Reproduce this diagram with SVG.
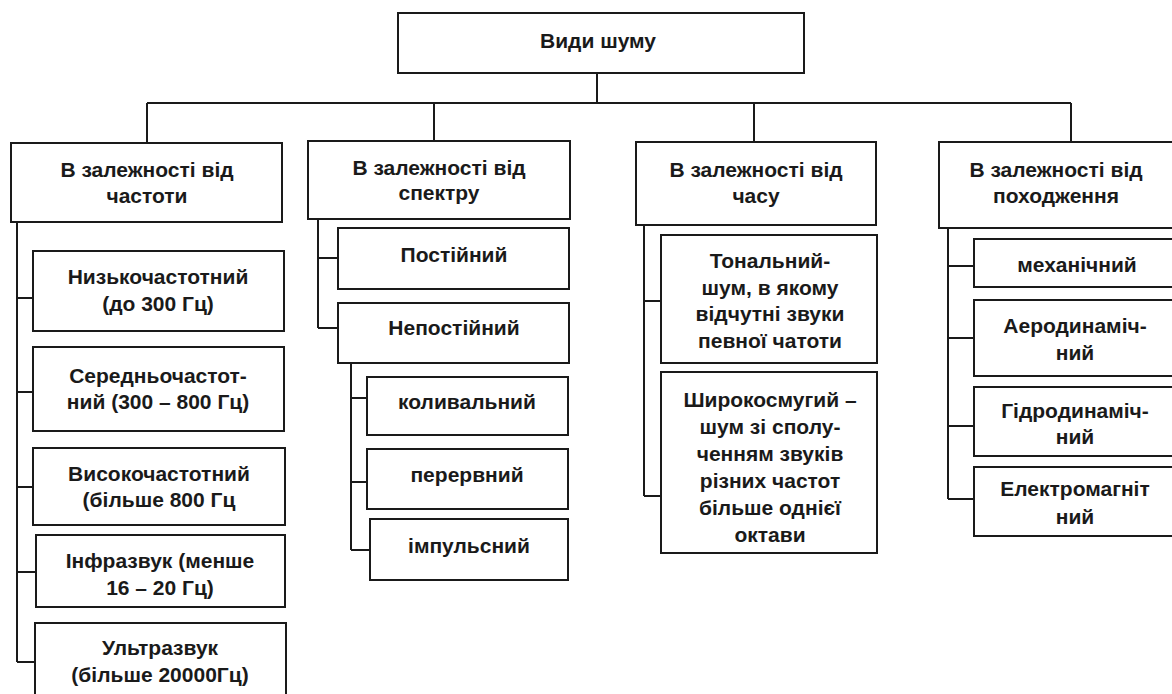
<svg xmlns="http://www.w3.org/2000/svg" width="1172" height="694" viewBox="0 0 1172 694">
<style>
.b{fill:#fff;stroke:#1a1a1a;stroke-width:2}
.c{fill:none;stroke:#1a1a1a;stroke-width:2}
text{font-family:"Liberation Sans",Arial,sans-serif;font-weight:bold;font-size:21px;fill:#1a1a1a;text-anchor:middle}
</style>
<rect width="1172" height="694" fill="#fff"/>
<g id="connectors">
<path class="c" d="M597 73V103M147 103H1071M147 103V143M434 103V141M754 103V142M1071 103V142"/>
<path class="c" d="M17 222V662M17 298H33M17 392H33M17 487H33M17 572H36M17 662H35"/>
<path class="c" d="M318 219V328M318 258H338M318 328H338M351 363V550M351 398H367M351 482H367M351 550H370"/>
<path class="c" d="M644 225V496M644 301H661M644 496H661"/>
<path class="c" d="M948 228V499M948 266H974M948 338H974M948 426H974M948 499H974"/>
</g>
<g id="root"><rect class="b" x="398" y="13" width="406" height="60"/><text x="598" y="48">Види шуму</text></g>
<g id="freq"><rect class="b" x="11" y="143" width="271" height="79"/><text x="147" y="177">В залежності від</text><text x="147" y="203">частоти</text></g>
<g id="spectrum"><rect class="b" x="308" y="141" width="262" height="78"/><text x="439" y="175">В залежності від</text><text x="439" y="200">спектру</text></g>
<g id="time"><rect class="b" x="636" y="142" width="240" height="83"/><text x="756" y="177">В залежності від</text><text x="756" y="203">часу</text></g>
<g id="origin"><rect class="b" x="939" y="142" width="236" height="86"/><text x="1056" y="177">В залежності від</text><text x="1056" y="203">походження</text></g>
<g id="low"><rect class="b" x="33" y="251" width="251" height="80"/><text x="158" y="284">Низькочастотний</text><text x="158" y="311">(до 300 Гц)</text></g>
<g id="mid"><rect class="b" x="33" y="347" width="251" height="84"/><text x="158" y="383">Середньочастот-</text><text x="158" y="409">ний (300 – 800 Гц)</text></g>
<g id="high"><rect class="b" x="33" y="448" width="252" height="77"/><text x="159" y="481">Високочастотний</text><text x="159" y="507">(більше 800 Гц</text></g>
<g id="infra"><rect class="b" x="36" y="535" width="249" height="72"/><text x="160" y="568">Інфразвук (менше</text><text x="160" y="595">16 – 20 Гц)</text></g>
<g id="ultra"><rect class="b" x="35" y="623" width="251" height="80"/><text x="160" y="655">Ультразвук</text><text x="160" y="682">(більше 20000Гц)</text></g>
<g id="const"><rect class="b" x="338" y="228" width="231" height="61"/><text x="454" y="262">Постійний</text></g>
<g id="nonconst"><rect class="b" x="338" y="303" width="231" height="60"/><text x="454" y="335">Непостійний</text></g>
<g id="oscil"><rect class="b" x="367" y="377" width="201" height="58"/><text x="467" y="409">коливальний</text></g>
<g id="interm"><rect class="b" x="367" y="449" width="201" height="60"/><text x="467" y="482">перервний</text></g>
<g id="impulse"><rect class="b" x="370" y="519" width="198" height="61"/><text x="469" y="553">імпульсний</text></g>
<g id="tonal"><rect class="b" x="661" y="235" width="216" height="128"/><text x="770" y="268">Тональний-</text><text x="770" y="295">шум, в якому</text><text x="770" y="321">відчутні звуки</text><text x="770" y="348">певної чатоти</text></g>
<g id="broad"><rect class="b" x="661" y="372" width="216" height="181"/><text x="770" y="407">Широкосмугий –</text><text x="770" y="434">шум зі сполу-</text><text x="770" y="461">ченням звуків</text><text x="770" y="488">різних частот</text><text x="770" y="515">більше однієї</text><text x="770" y="542">октави</text></g>
<g id="mech"><rect class="b" x="974" y="239" width="201" height="48"/><text x="1077" y="272">механічний</text></g>
<g id="aero"><rect class="b" x="974" y="300" width="201" height="76"/><text x="1075" y="333">Аеродинаміч-</text><text x="1075" y="360">ний</text></g>
<g id="hydro"><rect class="b" x="974" y="387" width="201" height="69"/><text x="1075" y="418">Гідродинаміч-</text><text x="1075" y="444">ний</text></g>
<g id="electro"><rect class="b" x="974" y="467" width="201" height="69"/><text x="1075" y="496">Електромагніт</text><text x="1075" y="524">ний</text></g>
</svg>
